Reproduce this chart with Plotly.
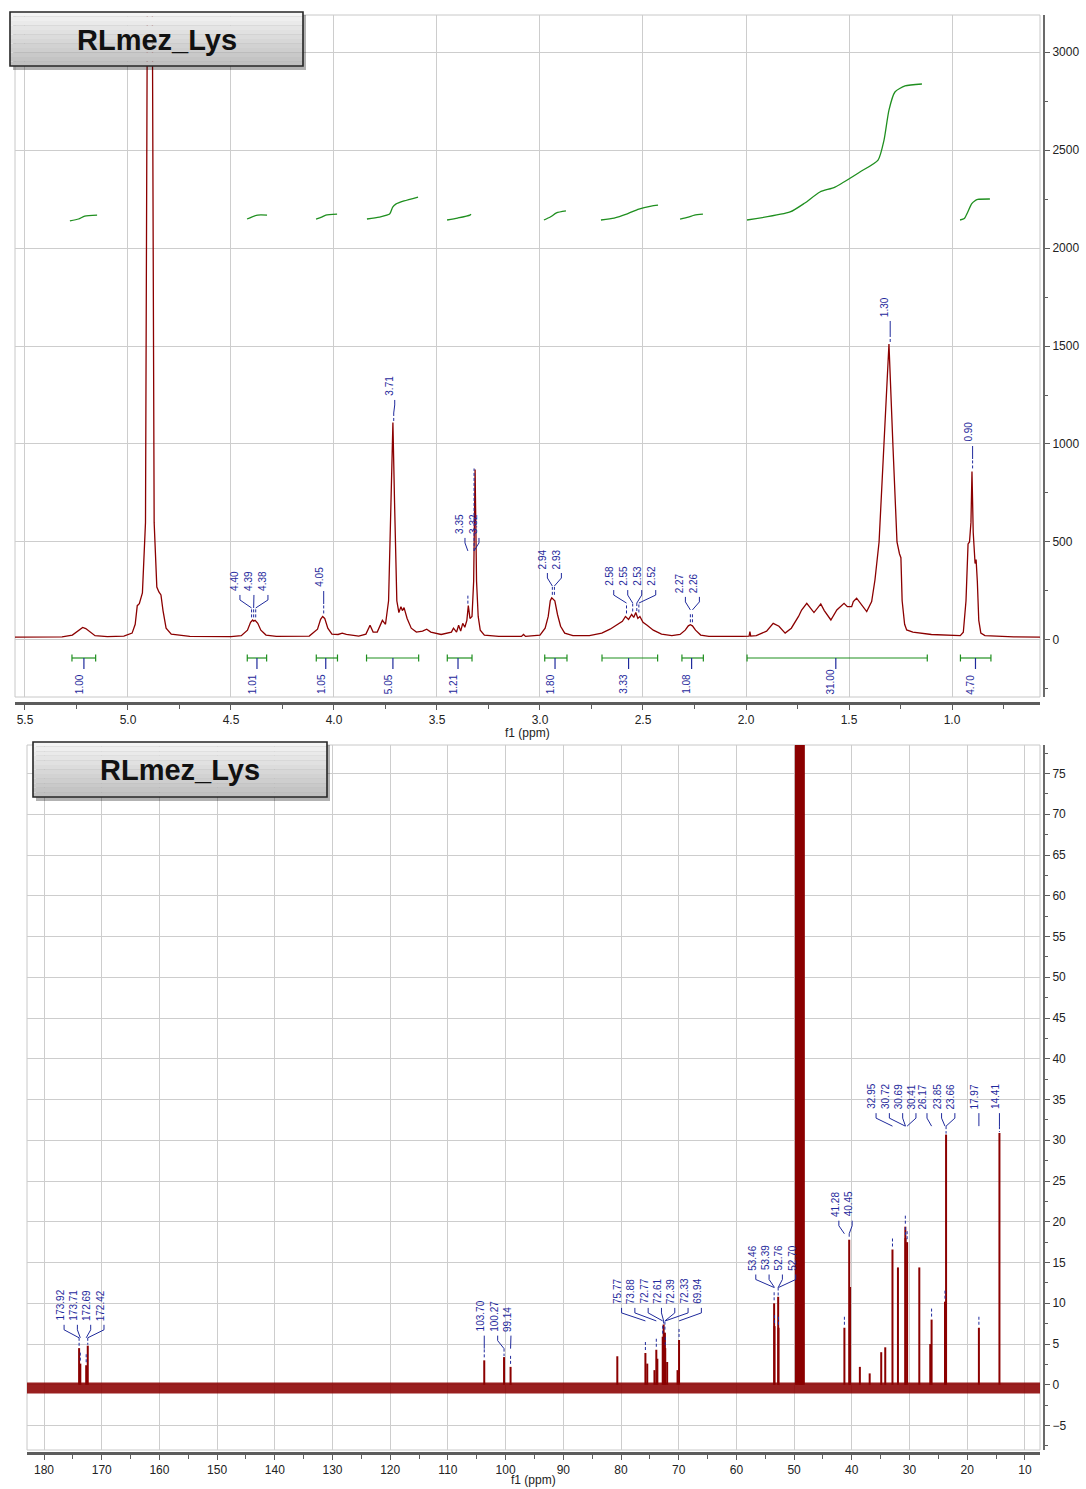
import plotly.graph_objects as go

# ======================= DATA =======================
# 1H spectrum trace (ppm, intensity)
h1_ppm = [5.55, 5.32, 5.27, 5.24, 5.22, 5.205, 5.19, 5.16, 5.10, 5.02, 4.98, 4.965, 4.955, 4.945, 4.93,
          4.915, 4.905, 4.883, 4.873, 4.86, 4.85, 4.84, 4.83, 4.815, 4.79, 4.70, 4.50, 4.45, 4.42, 4.405,
          4.395, 4.39, 4.383, 4.37, 4.355, 4.33, 4.28, 4.12, 4.08, 4.065, 4.055, 4.045, 4.03, 4.01, 3.98,
          3.96, 3.94, 3.88, 3.845, 3.825, 3.81, 3.79, 3.765, 3.75, 3.735, 3.722, 3.714, 3.706, 3.695, 3.685,
          3.675, 3.668, 3.66, 3.645, 3.625, 3.60, 3.57, 3.55, 3.53, 3.48, 3.43, 3.42, 3.405, 3.395, 3.385,
          3.375, 3.365, 3.355, 3.348, 3.34, 3.33, 3.322, 3.315, 3.308, 3.30, 3.29, 3.27, 3.20, 3.09, 3.08,
          3.07, 3.00, 2.975, 2.96, 2.95, 2.943, 2.935, 2.928, 2.915, 2.90, 2.88, 2.84, 2.76, 2.70, 2.66,
          2.63, 2.60, 2.585, 2.57, 2.555, 2.545, 2.535, 2.525, 2.515, 2.50, 2.48, 2.45, 2.41, 2.36, 2.32,
          2.295, 2.28, 2.27, 2.26, 2.245, 2.22, 2.18, 2.02, 1.985, 1.981, 1.977, 1.95, 1.90, 1.868, 1.84,
          1.81, 1.78, 1.745, 1.73, 1.705, 1.689, 1.670, 1.637, 1.62, 1.588, 1.559, 1.524, 1.508, 1.487,
          1.479, 1.463, 1.447, 1.414, 1.39, 1.374, 1.354, 1.330, 1.306, 1.287, 1.267, 1.255, 1.248, 1.242,
          1.23, 1.22, 1.19, 1.10, 1.00, 0.96, 0.945, 0.932, 0.922, 0.915, 0.908, 0.903, 0.897, 0.888,
          0.883, 0.877, 0.87, 0.86, 0.84, 0.70, 0.57]
h1_intensity = [15, 16, 25, 50, 64, 58, 45, 22, 17, 20, 35, 80, 175, 185, 240,
                600, 3600, 3600, 600, 270, 245, 230, 150, 60, 30, 18, 17, 22, 50, 90,
                102, 96, 100, 85, 50, 25, 18, 20, 55, 105, 120, 110, 60, 30, 28,
                35, 28, 20, 30, 75, 40, 40, 100, 80, 200, 700, 1110, 700, 200, 140,
                170, 150, 165, 110, 60, 40, 45, 55, 40, 28, 40, 60, 40, 75, 45,
                85, 65, 100, 175, 110, 120, 300, 870, 300, 120, 50, 25, 18, 18, 28,
                18, 25, 60, 120, 200, 215, 205, 200, 130, 70, 35, 22, 22, 35, 55,
                75, 95, 120, 105, 130, 115, 140, 110, 120, 90, 75, 50, 30, 22, 28,
                50, 72, 78, 72, 50, 25, 18, 18, 20, 42, 20, 22, 45, 85, 70,
                35, 60, 120, 153, 187, 163, 140, 184, 150, 102, 153, 187, 170, 170,
                196, 213, 191, 145, 196, 306, 500, 1000, 1510, 1000, 500, 440, 420, 200,
                80, 51, 40, 28, 22, 22, 40, 200, 490, 500, 600, 860, 550, 390,
                410, 300, 100, 35, 22, 16, 15]

# integral curves (ppm, level)
integral_ppm = [
    [5.282, 5.24, 5.21, 5.150],
    [4.422, 4.40, 4.37, 4.325],
    [4.087, 4.06, 4.04, 3.985],
    [3.840, 3.78, 3.73, 3.715, 3.70, 3.66, 3.592],
    [3.451, 3.40, 3.34, 3.335],
    [2.981, 2.95, 2.92, 2.874],
    [2.704, 2.64, 2.58, 2.52, 2.46, 2.427],
    [2.320, 2.28, 2.25, 2.209],
    [1.995, 1.786, 1.714, 1.641, 1.568, 1.447, 1.359, 1.33, 1.306, 1.277, 1.228, 1.146],
    [0.961, 0.94, 0.925, 0.905, 0.89, 0.875, 0.816],
]
integral_level = [
    [2138, 2148, 2163, 2168],
    [2148, 2158, 2168, 2168],
    [2148, 2158, 2168, 2173],
    [2148, 2158, 2173, 2209, 2224, 2240, 2260],
    [2143, 2153, 2168, 2173],
    [2143, 2158, 2179, 2189],
    [2143, 2153, 2173, 2199, 2214, 2219],
    [2148, 2158, 2168, 2173],
    [2143, 2184, 2230, 2286, 2311, 2388, 2449, 2551, 2704, 2796, 2827, 2837],
    [2143, 2150, 2180, 2225, 2240, 2248, 2250],
]
integral_from = [5.272, 4.421, 4.086, 3.842, 3.450, 2.977, 2.699, 2.311, 1.995, 0.959]
integral_to = [5.157, 4.327, 3.983, 3.589, 3.330, 2.869, 2.429, 2.207, 1.120, 0.811]
integral_mark = [5.214, 4.374, 4.040, 3.714, 3.398, 2.927, 2.570, 2.264, 1.564, 0.886]
integral_value = ["1.00", "1.01", "1.05", "5.05", "1.21", "1.80", "3.33", "1.08", "31.00", "4.70"]

# 1H peak picking
h1_peak_groups = [[4.40, 4.39, 4.38], [4.05], [3.71], [3.35, 3.32], [2.94, 2.93],
                  [2.58, 2.55, 2.53, 2.52], [2.27, 2.26], [1.30], [0.90]]
h1_peak_tops = [[100, 100, 100], [120], [1110], [170, 870], [215, 215],
                [120, 130, 135, 125], [75, 75], [1510], [860]]

# 13C spectrum: stick peaks (ppm, height)
c13_ppm = [173.92, 173.71, 172.69, 172.42, 103.70, 100.27, 99.14, 80.64, 75.77, 75.45, 74.20,
           73.88, 73.70, 72.77, 72.61, 72.39, 72.33, 72.00, 70.20, 69.94, 53.46, 53.39, 52.76,
           52.70, 41.28, 40.45, 40.30, 38.6, 36.9, 34.9, 34.2, 32.95, 32.0, 30.72, 30.69, 30.41,
           28.3, 26.4, 26.17, 23.85, 23.66, 17.97, 14.41]
c13_height = [4.5, 2.6, 2.4, 4.8, 3.0, 3.4, 2.2, 3.5, 3.9, 2.6, 1.8,
              4.3, 3.2, 5.9, 7.4, 6.4, 4.5, 2.8, 1.8, 5.5, 10.0, 7.2, 10.8,
              7.0, 7.0, 17.8, 12.0, 2.2, 1.4, 4.0, 4.6, 16.6, 14.4, 19.4, 18.0, 17.5,
              14.4, 5.0, 8.0, 10.2, 30.7, 7.0, 30.9]
c13_solvent_ppm = [49.64, 49.43, 49.21, 49.00, 48.79, 48.57, 48.36]
c13_solvent_height = [100, 100, 100, 100, 100, 100, 100]
c13_noise_ppm = [182.95, 7.38]
c13_noise_level = [-0.4, -0.4]

c13_peak_groups = [[173.92, 173.71, 172.69, 172.42], [103.70], [100.27, 99.14],
                   [75.77, 73.88, 72.77, 72.61, 72.39, 72.33, 69.94],
                   [53.46, 53.39, 52.76, 52.70], [41.28, 40.45],
                   [32.95, 30.72, 30.69, 30.41], [26.17], [23.85, 23.66], [17.97], [14.41]]
c13_peak_tops = [[4.5, 2.6, 2.4, 4.8], [3.0], [3.4, 2.2], [3.9, 4.3, 5.9, 7.4, 6.4, 4.5, 5.5],
                 [10.0, 7.2, 10.8, 7.0], [7.0, 17.8], [16.6, 19.4, 18.0, 17.5], [8.0],
                 [10.2, 30.7], [7.0], [30.9]]

TITLE = "RLmez_Lys"
XTITLE = "f1 (ppm)"

# ======================= LAYOUT CONSTANTS =======================
W, H = 1086, 1489
TOP_PX = (15, 1040, 15, 697)     # x0, x1, y0, y1 (pixels)
BOT_PX = (27, 1040, 745, 1450)
H1_XR = [5.5485, 0.5728]
H1_YR = [-291, 3189]
C13_XR = [182.95, 7.38]
C13_YR = [-8.0, 78.5]

h1_label_bottom = [245, 265, 1240, 536, 357, 270, 235, 1643, 1005]
h1_label_shift = [-4.7, -5, -4, -4, -4, -4, -4, -5, -5]
c13_label_bottom = [7.73, 6.4, 6.4, 9.8, 13.9, 20.5, 33.7, 33.7, 33.7, 33.7, 33.7]
c13_label_shift = [-3.3, -4, -7, -5, -4.6, -5.3, -10.6, -8.6, -1.3, -4, -4]

RED = "#8b0000"
GREEN = "#1f8f1f"
BLUE = "#1f2a9c"
GRID = "#cdcdcd"
AX = "#5c5c5c"
FONT = "Liberation Sans"

h1_xpx = (TOP_PX[1] - TOP_PX[0]) / (H1_XR[0] - H1_XR[1])
h1_ypx = (TOP_PX[3] - TOP_PX[2]) / (H1_YR[1] - H1_YR[0])
c13_xpx = (BOT_PX[1] - BOT_PX[0]) / (C13_XR[0] - C13_XR[1])
c13_ypx = (BOT_PX[3] - BOT_PX[2]) / (C13_YR[1] - C13_YR[0])

fig = go.Figure()

# ---------- 1H spectrum ----------
fig.add_trace(go.Scatter(x=h1_ppm, y=h1_intensity, mode="lines",
                         line=dict(color=RED, width=1.3), xaxis="x", yaxis="y",
                         hoverinfo="skip"))

# integral curves
ix, iy = [], []
for xs, ys in zip(integral_ppm, integral_level):
    ix += xs + [None]
    iy += ys + [None]
fig.add_trace(go.Scatter(x=ix, y=iy, mode="lines", line=dict(color=GREEN, width=1.3, shape="spline", smoothing=0.6),
                         xaxis="x", yaxis="y", hoverinfo="skip", connectgaps=False))

# integral brackets
bl = -92
cap = 3.5 / h1_ypx
bx, by, tx, ty = [], [], [], []
for a, b, m in zip(integral_from, integral_to, integral_mark):
    bx += [a, a, None, a, b, None, b, b, None]
    by += [bl - cap, bl + cap, None, bl, bl, None, bl - cap, bl + cap, None]
    tx += [m, m, None]
    ty += [bl, bl - 11 / h1_ypx, None]
fig.add_trace(go.Scatter(x=bx, y=by, mode="lines", line=dict(color=GREEN, width=1.2),
                         xaxis="x", yaxis="y", hoverinfo="skip"))
fig.add_trace(go.Scatter(x=tx, y=ty, mode="lines", line=dict(color=BLUE, width=1.2),
                         xaxis="x", yaxis="y", hoverinfo="skip"))

annotations = []
for m, v in zip(integral_mark, integral_value):
    annotations.append(dict(x=m + 5 / h1_xpx, y=-282, xref="x", yref="y", text=v, showarrow=False,
                            textangle=-90, xanchor="center", yanchor="bottom", borderpad=0,
                            font=dict(family=FONT, size=10, color=BLUE)))


def peak_labels(groups, tops, bottoms, shifts, spacing, xpx, ypx, conn_dx, xa, ya):
    cx, cy, mx, my, anns = [], [], [], [], []
    for g, t, b, s in zip(groups, tops, bottoms, shifts):
        n = len(g)
        mean = sum(g) / n
        for i, (p, h) in enumerate(zip(g, t)):
            off = (i - (n - 1) / 2) * spacing + s
            lab = mean - off / xpx
            con = mean - (off + conn_dx) / xpx
            cx += [con, con, p, None]
            cy += [b - 3 / ypx, b - 8 / ypx, b - 16 / ypx, None]
            top = min(h + 11 / ypx, b - 16 / ypx)
            mx += [p, p, None]
            my += [top, h + 1 / ypx, None]
            anns.append(dict(x=lab, y=b, xref=xa, yref=ya, text="%.2f" % p, showarrow=False,
                             textangle=-90, xanchor="center", yanchor="bottom", borderpad=0,
                             font=dict(family=FONT, size=10, color=BLUE)))
    return cx, cy, mx, my, anns


cx, cy, mx, my, anns = peak_labels(h1_peak_groups, h1_peak_tops, h1_label_bottom, h1_label_shift,
                                   14, h1_xpx, h1_ypx, 5, "x", "y")
annotations += anns
fig.add_trace(go.Scatter(x=cx, y=cy, mode="lines", line=dict(color=BLUE, width=1),
                         xaxis="x", yaxis="y", hoverinfo="skip"))
fig.add_trace(go.Scatter(x=mx, y=my, mode="lines", line=dict(color=BLUE, width=1, dash="3px,2px"),
                         xaxis="x", yaxis="y", hoverinfo="skip"))

# ---------- 13C spectrum ----------
fig.add_trace(go.Scatter(x=c13_noise_ppm, y=c13_noise_level, mode="lines",
                         line=dict(color="rgba(139,0,0,0.88)", width=11), xaxis="x2", yaxis="y2",
                         hoverinfo="skip"))
sx, sy = [], []
for p, h in zip(c13_ppm, c13_height):
    sx += [p, p, None]
    sy += [0, h, None]
fig.add_trace(go.Scatter(x=sx, y=sy, mode="lines", line=dict(color=RED, width=2),
                         xaxis="x2", yaxis="y2", hoverinfo="skip"))
vx, vy = [], []
for p, h in zip(c13_solvent_ppm, c13_solvent_height):
    vx += [p, p, None]
    vy += [0, h, None]
fig.add_trace(go.Scatter(x=vx, y=vy, mode="lines", line=dict(color=RED, width=2.6),
                         xaxis="x2", yaxis="y2", hoverinfo="skip"))

cx, cy, mx, my, anns = peak_labels(c13_peak_groups, c13_peak_tops, c13_label_bottom, c13_label_shift,
                                   13.3, c13_xpx, c13_ypx, 4, "x2", "y2")
annotations += anns
fig.add_trace(go.Scatter(x=cx, y=cy, mode="lines", line=dict(color=BLUE, width=1),
                         xaxis="x2", yaxis="y2", hoverinfo="skip"))
fig.add_trace(go.Scatter(x=mx, y=my, mode="lines", line=dict(color=BLUE, width=1, dash="3px,2px"),
                         xaxis="x2", yaxis="y2", hoverinfo="skip"))

# axis titles
annotations.append(dict(x=527 / W, y=1 - 733 / H, xref="paper", yref="paper", text=XTITLE,
                        xanchor="center", yanchor="middle",
                        showarrow=False, font=dict(family=FONT, size=12, color="#222")))
annotations.append(dict(x=533 / W, y=1 - 1480 / H, xref="paper", yref="paper", text=XTITLE,
                        xanchor="center", yanchor="middle",
                        showarrow=False, font=dict(family=FONT, size=12, color="#222")))

# ---------- title boxes & frames ----------
shapes = []


def px_rect(x0, y0, x1, y1, **kw):
    return dict(type="rect", xref="paper", yref="paper", x0=x0 / W, x1=x1 / W,
                y0=1 - y1 / H, y1=1 - y0 / H, **kw)


for (x0, x1, y0, y1) in (TOP_PX, BOT_PX):
    shapes.append(px_rect(x0, y0, x1, y1, line=dict(color="#c8c8c8", width=1), layer="below"))


def title_box(x0, y0, x1, y1):
    out = [px_rect(x0 + 3, y0 + 3, x1 + 3, y1 + 4, fillcolor="rgba(0,0,0,0.30)",
                   line=dict(width=0), layer="above")]
    n = 12
    for k in range(n):
        c = int(244 - (244 - 192) * k / (n - 1))
        ya = y0 + (y1 - y0) * k / n
        yb = y0 + (y1 - y0) * (k + 1) / n
        out.append(px_rect(x0, ya, x1, yb, fillcolor="rgb(%d,%d,%d)" % (c, c, c),
                           line=dict(width=0), layer="above"))
    out.append(px_rect(x0, y0, x1, y1, line=dict(color="#262626", width=1.6), layer="above"))
    return out


shapes += title_box(10, 12, 303, 66)
shapes += title_box(33, 742, 327, 797)
annotations.append(dict(x=157 / W, y=1 - 40 / H, xref="paper", yref="paper", text="<b>%s</b>" % TITLE,
                        xanchor="center", yanchor="middle",
                        showarrow=False, font=dict(family=FONT, size=29, color="#111")))
annotations.append(dict(x=180 / W, y=1 - 770 / H, xref="paper", yref="paper", text="<b>%s</b>" % TITLE,
                        xanchor="center", yanchor="middle",
                        showarrow=False, font=dict(family=FONT, size=29, color="#111")))

tickfont = dict(family=FONT, size=12, color="#222")
common_x = dict(showgrid=True, gridcolor=GRID, gridwidth=1, ticks="outside", ticklen=5, tickcolor=AX,
                tickwidth=1, showline=True, linecolor=AX, linewidth=2.5, zeroline=False,
                tickfont=tickfont, anchor="free")
common_y = dict(showgrid=True, gridcolor=GRID, gridwidth=1, ticks="outside", ticklen=5, tickcolor=AX,
                tickwidth=1, showline=True, linecolor="#6a6a6a", linewidth=2, zeroline=False,
                tickfont=tickfont, side="right", anchor="free", position=1044 / W)

fig.update_layout(
    width=W, height=H, autosize=False,
    margin=dict(l=0, r=0, t=0, b=0),
    paper_bgcolor="white", plot_bgcolor="white", showlegend=False,
    xaxis=dict(domain=[TOP_PX[0] / W, TOP_PX[1] / W], range=H1_XR, position=1 - 703 / H,
               tickmode="linear", tick0=0, dtick=0.5, tickformat=".1f",
               minor=dict(dtick=0.25, tick0=0, ticks="outside", ticklen=4, tickcolor=AX, showgrid=False),
               **common_x),
    yaxis=dict(domain=[1 - TOP_PX[3] / H, 1 - TOP_PX[2] / H], range=H1_YR,
               tickmode="linear", tick0=0, dtick=500,
               minor=dict(dtick=250, tick0=0, ticks="outside", ticklen=3, tickcolor=AX, showgrid=False),
               **common_y),
    xaxis2=dict(domain=[BOT_PX[0] / W, BOT_PX[1] / W], range=C13_XR, position=1 - 1453 / H,
                tickmode="linear", tick0=0, dtick=10,
                minor=dict(dtick=5, tick0=0, ticks="outside", ticklen=4, tickcolor=AX, showgrid=False),
                **common_x),
    yaxis2=dict(domain=[1 - BOT_PX[3] / H, 1 - BOT_PX[2] / H], range=C13_YR,
                tickmode="linear", tick0=0, dtick=5,
                minor=dict(dtick=2.5, tick0=0, ticks="outside", ticklen=3, tickcolor=AX, showgrid=False),
                **common_y),
    shapes=shapes,
    annotations=annotations,
)

fig.write_html("out.html")
